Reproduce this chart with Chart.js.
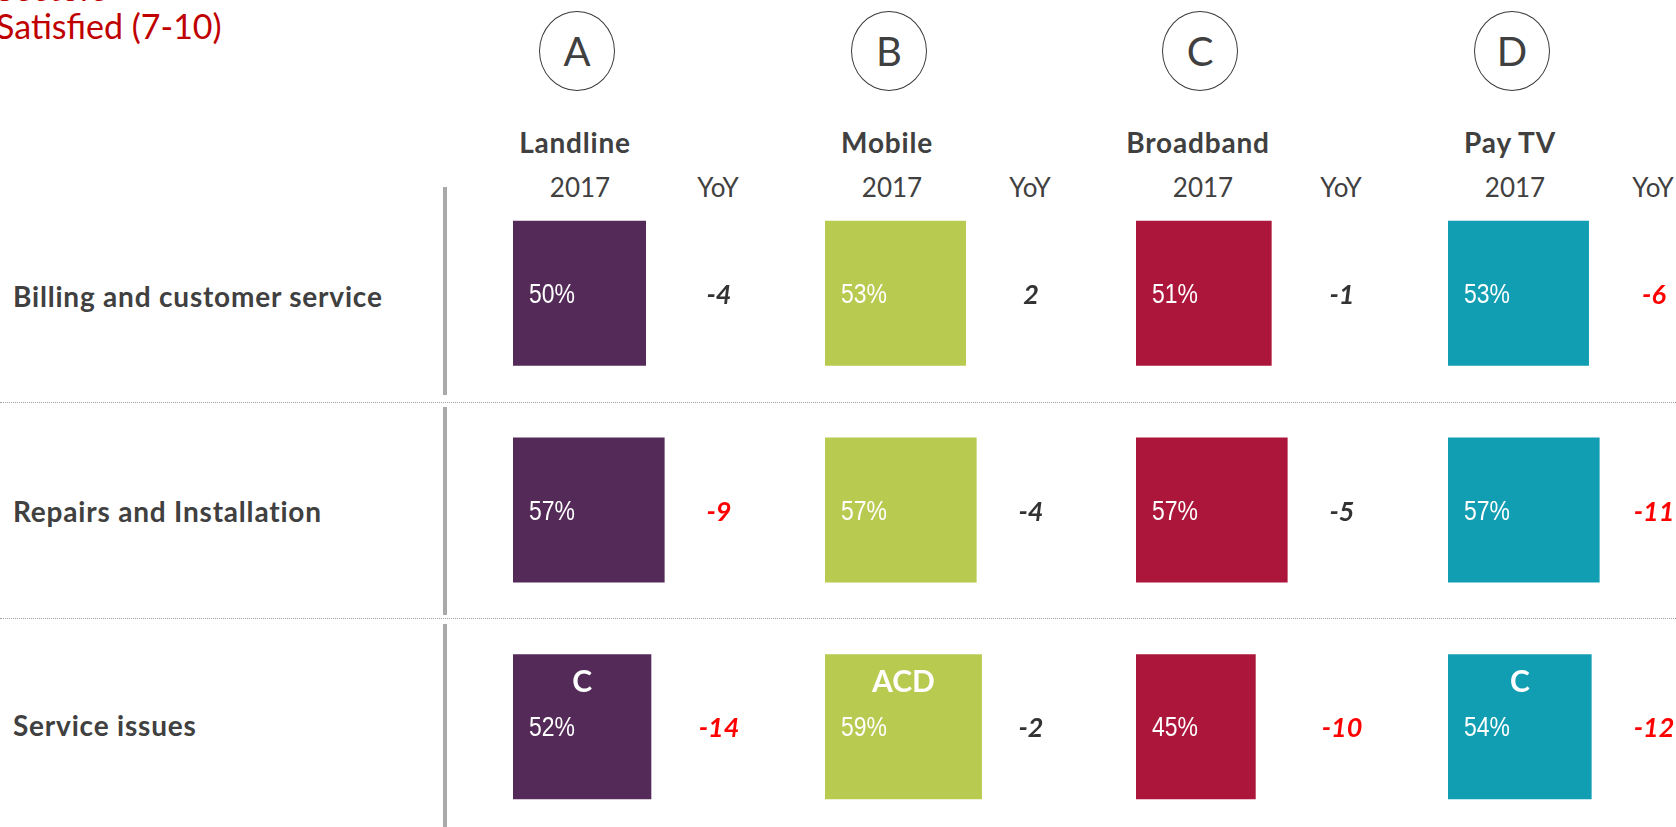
<!DOCTYPE html>
<html>
<head>
<meta charset="utf-8">
<script src="https://cdn.jsdelivr.net/npm/chart.js@4.4.0/dist/chart.umd.min.js"></script>
<style>
  html, body { margin: 0; padding: 0; width: 1676px; height: 827px; overflow: hidden; background: #fff; }
  #page { position: relative; width: 1676px; height: 827px; overflow: hidden; font-family: Lato, sans-serif; color: #404040; }
  .t { position: absolute; white-space: nowrap; line-height: 1; transform: translate(-50%, -50%); }
  .circle { position: absolute; width: 76px; height: 80px; border: 1.4px solid #3a3a3a; border-radius: 50%;
            transform: translate(-50%, -50%); box-sizing: border-box; display: flex; align-items: center;
            justify-content: center; font-size: 40px; color: #404040; }
  .rowlabel { position: absolute; left: 13px; white-space: nowrap; line-height: 1; transform: translateY(-50%);
              font-weight: bold; font-size: 28px; letter-spacing: 0.8px; color: #404040; }
  .vsep { position: absolute; left: 443px; width: 4px; background: #a9a9a9; }
  .hsep { position: absolute; left: 0; width: 1676px; height: 0; border-top: 1px dotted #a0a0a0; }
  .col { position: absolute; top: 185px; width: 312px; height: 650px; }
  .title { position: absolute; left: -4px; font-size: 34px; color: #c00000; line-height: 1; white-space: nowrap; }
</style>
</head>
<body>
<div id="page">
  <div class="title" style="top:-29px">Sectors</div>
  <div class="title" style="top:9px">Satisfied (7-10)</div>
</div>
<script>
// services (columns) and aspects (rows)
const services = ['Landline', 'Mobile', 'Broadband', 'Pay TV'];
const serviceLetters = ['A', 'B', 'C', 'D'];
const aspects = ['Billing and customer service', 'Repairs and Installation', 'Service issues'];
const yearLabel = '2017';
const changeLabel = 'YoY';

// % satisfied 2017
const landline = [50, 57, 52];
const mobile = [53, 57, 59];
const broadband = [51, 57, 45];
const payTv = [53, 57, 54];

// year on year change
const landlineYoY = [-4, -9, -14];
const mobileYoY = [2, -4, -2];
const broadbandYoY = [-1, -5, -10];
const payTvYoY = [-6, -11, -12];

// significant change (shown red)
const landlineYoYSig = [false, true, true];
const mobileYoYSig = [false, false, false];
const broadbandYoYSig = [false, false, true];
const payTvYoYSig = [true, true, true];

// significantly higher than
const landlineSig = ['', '', 'C'];
const mobileSig = ['', '', 'ACD'];
const broadbandSig = ['', '', ''];
const payTvSig = ['', '', 'C'];

const values = [landline, mobile, broadband, payTv];
const yoy = [landlineYoY, mobileYoY, broadbandYoY, payTvYoY];
const yoySig = [landlineYoYSig, mobileYoYSig, broadbandYoYSig, payTvYoYSig];
const sigLetters = [landlineSig, mobileSig, broadbandSig, payTvSig];
const colors = ['#542a58', '#b8ca50', '#ad163b', '#119eb2'];

// layout
const colX = [513, 825, 1136, 1448];
const rowY = [296, 511, 725];
const page = document.getElementById('page');

function addDiv(cls, style, text) {
  const d = document.createElement('div');
  d.className = cls;
  d.style.cssText = style;
  if (text !== undefined) d.textContent = text;
  page.appendChild(d);
  return d;
}

// separators
addDiv('vsep', 'top:187px;height:208px');
addDiv('vsep', 'top:407px;height:208px');
addDiv('vsep', 'top:624px;height:210px');
addDiv('hsep', 'top:402px');
addDiv('hsep', 'top:618px');

aspects.forEach((a, j) => addDiv('rowlabel', 'top:' + rowY[j] + 'px', a));

services.forEach((s, i) => {
  const x = colX[i];
  addDiv('circle', 'left:' + (x + 64) + 'px;top:51px', serviceLetters[i]);
  addDiv('t', 'left:' + (x + 62) + 'px;top:142px;font-weight:bold;font-size:28px;letter-spacing:0.8px', s);
  addDiv('t', 'left:' + (x + 67) + 'px;top:187px;font-size:26px', yearLabel);
  addDiv('t', 'left:' + (x + 205) + 'px;top:187px;font-size:26px', changeLabel);
});

const labelPlugin = {
  id: 'cellLabels',
  afterDatasetsDraw(chart) {
    const i = chart.options.plugins.cellLabels.col;
    const ctx = chart.ctx;
    const meta = chart.getDatasetMeta(0);
    meta.data.forEach((bar, j) => {
      const top = bar.y - bar.height / 2;
      ctx.save();
      // value
      ctx.fillStyle = '#ffffff';
      ctx.textAlign = 'left';
      ctx.textBaseline = 'middle';
      ctx.font = '28px "Liberation Sans", Arial, sans-serif';
      ctx.translate(bar.base + 16, bar.y + 2);
      ctx.scale(0.82, 1);
      ctx.fillText(values[i][j] + '%', 0, 0);
      ctx.restore();

      ctx.save();
      ctx.textAlign = 'center';
      ctx.textBaseline = 'middle';
      if (sigLetters[i][j]) {
        ctx.fillStyle = '#ffffff';
        ctx.font = 'bold 30px Lato, sans-serif';
        ctx.fillText(sigLetters[i][j], (bar.base + bar.x) / 2, top + 28);
      }
      ctx.fillStyle = yoySig[i][j] ? '#ff0000' : '#333333';
      ctx.font = 'italic bold 27px Lato, sans-serif';
      ctx.fillText(String(yoy[i][j]), chart.chartArea.left + 206, bar.y + 2);
      ctx.restore();
    });
  }
};

services.forEach((s, i) => {
  const wrap = addDiv('col', 'left:' + colX[i] + 'px');
  const canvas = document.createElement('canvas');
  wrap.appendChild(canvas);
  new Chart(canvas, {
    type: 'bar',
    data: {
      labels: aspects,
      datasets: [{
        label: s,
        data: values[i],
        backgroundColor: colors[i],
        borderWidth: 0,
        barPercentage: 0.669,
        categoryPercentage: 1
      }]
    },
    options: {
      indexAxis: 'y',
      responsive: true,
      maintainAspectRatio: false,
      animation: false,
      layout: { padding: { left: 0, right: 46, top: 0, bottom: 0 } },
      scales: {
        x: { display: false, min: 0, max: 100 },
        y: { display: false }
      },
      plugins: {
        legend: { display: false },
        tooltip: { enabled: false },
        cellLabels: { col: i }
      }
    },
    plugins: [labelPlugin]
  });
});
</script>
</body>
</html>
